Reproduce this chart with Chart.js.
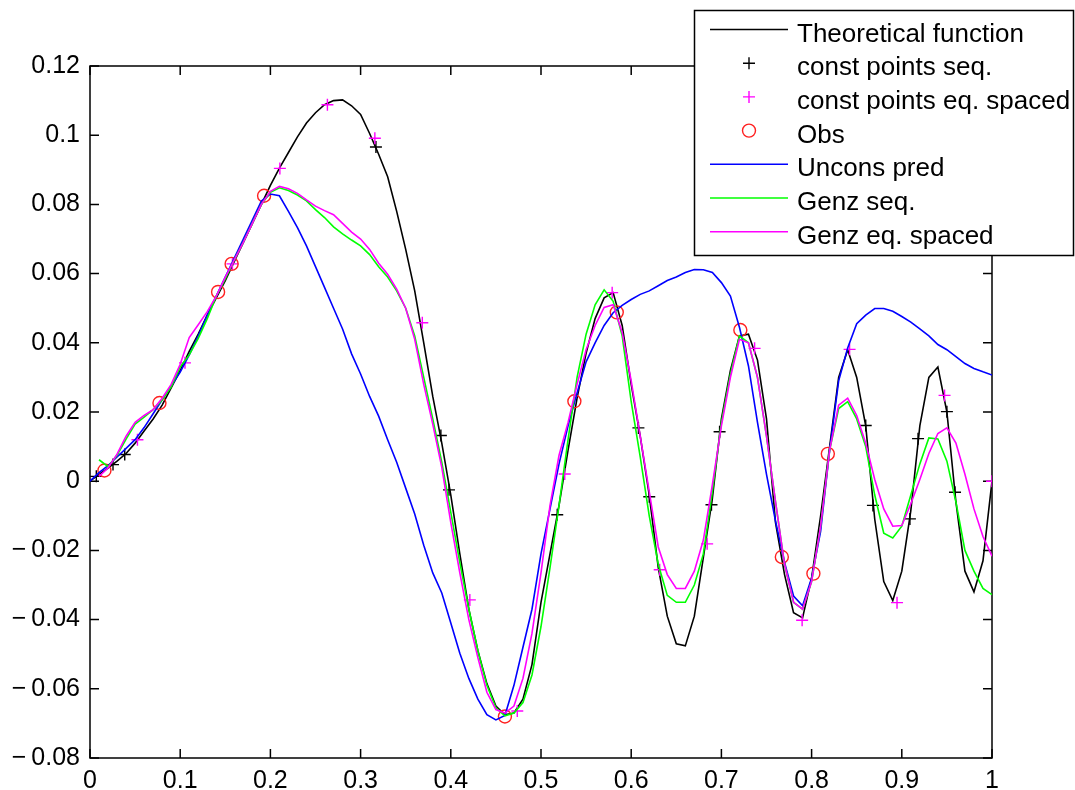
<!DOCTYPE html>
<html>
<head>
<meta charset="utf-8">
<script src="https://cdn.jsdelivr.net/npm/chart.js@4.4.1/dist/chart.umd.min.js"></script>
<style>
  body { margin: 0; background: #fff; }
  #wrap { width: 1075px; height: 790px; }
</style>
</head>
<body>
<div id="wrap"><canvas id="chart" width="1075" height="790"></canvas></div>
<script>
// sample positions of the curves
const xGrid = [0, 0.01, 0.02, 0.03, 0.04, 0.05, 0.06, 0.07, 0.08, 0.09,
  0.1, 0.11, 0.12, 0.13, 0.14, 0.15, 0.16, 0.17, 0.18, 0.19,
  0.2, 0.21, 0.22, 0.23, 0.24, 0.25, 0.26, 0.27, 0.28, 0.29,
  0.3, 0.31, 0.32, 0.33, 0.34, 0.35, 0.36, 0.37, 0.38, 0.39,
  0.4, 0.41, 0.42, 0.43, 0.44, 0.45, 0.46, 0.47, 0.48, 0.49,
  0.5, 0.51, 0.52, 0.53, 0.54, 0.55, 0.56, 0.57, 0.58, 0.59,
  0.6, 0.61, 0.62, 0.63, 0.64, 0.65, 0.66, 0.67, 0.68, 0.69,
  0.7, 0.71, 0.72, 0.73, 0.74, 0.75, 0.76, 0.77, 0.78, 0.79,
  0.8, 0.81, 0.82, 0.83, 0.84, 0.85, 0.86, 0.87, 0.88, 0.89,
  0.9, 0.91, 0.92, 0.93, 0.94, 0.95, 0.96, 0.97, 0.98, 0.99, 1];

const theoretical = [0, 0.002, 0.0038, 0.0058, 0.008, 0.011, 0.0145, 0.018, 0.022, 0.027,
  0.032, 0.0375, 0.0425, 0.048, 0.053, 0.058, 0.0635, 0.069, 0.0745, 0.08,
  0.0855, 0.0905, 0.095, 0.0995, 0.1035, 0.1065, 0.1088, 0.11, 0.1102, 0.1085,
  0.106, 0.1005, 0.0945, 0.088, 0.078, 0.067, 0.055, 0.04, 0.0245, 0.011,
  -0.004, -0.021, -0.037, -0.049, -0.0585, -0.065, -0.0675, -0.067, -0.063, -0.053,
  -0.035, -0.021, -0.007, 0.009, 0.024, 0.037, 0.047, 0.053, 0.0545, 0.045,
  0.028, 0.013, -0.004, -0.025, -0.039, -0.047, -0.0476, -0.039, -0.022, -0.005,
  0.018, 0.032, 0.042, 0.0425, 0.035, 0.018, -0.012, -0.027, -0.038, -0.0395,
  -0.028, -0.01, 0.01, 0.03, 0.038, 0.03, 0.016, -0.011, -0.029, -0.0345,
  -0.026, -0.0085, 0.016, 0.03, 0.033, 0.02, -0.006, -0.026, -0.032, -0.023, 0];

const unconsPred = [0, 0.0025, 0.0045, 0.007, 0.0095, 0.012, 0.0155, 0.0195, 0.0235, 0.0275,
  0.0315, 0.0365, 0.042, 0.048, 0.0535, 0.059, 0.0645, 0.07, 0.0755, 0.081,
  0.083, 0.0825, 0.078, 0.0733, 0.068, 0.062, 0.056, 0.05, 0.044, 0.0368,
  0.031, 0.0245, 0.0188, 0.012, 0.0055, -0.002, -0.0095, -0.0185, -0.0265, -0.0323,
  -0.041, -0.0497, -0.057, -0.063, -0.0675, -0.069, -0.0677, -0.059, -0.048, -0.037,
  -0.021, -0.008, 0.005, 0.016, 0.0255, 0.0345, 0.04, 0.045, 0.0487, 0.0508,
  0.0525, 0.054, 0.055, 0.0565, 0.058, 0.059, 0.0603, 0.0612, 0.0611, 0.0603,
  0.0574, 0.0535, 0.0445, 0.0333, 0.017, 0.002, -0.0115, -0.0235, -0.0332, -0.036,
  -0.028, -0.0145, 0.009, 0.029, 0.0385, 0.0455, 0.048, 0.0499, 0.0499, 0.0491,
  0.0476, 0.046, 0.044, 0.042, 0.0395, 0.038, 0.036, 0.034, 0.0326, 0.0316, 0.0307];

const genzSeq = [null, 0.0062, 0.0042, 0.0075, 0.0122, 0.0165, 0.0185, 0.0207, 0.0235, 0.0273,
  0.033, 0.0365, 0.0413, 0.047, 0.0535, 0.0585, 0.064, 0.069, 0.0745, 0.08,
  0.0835, 0.0848, 0.084, 0.0827, 0.081, 0.0785, 0.0762, 0.0735, 0.0715, 0.0697,
  0.068, 0.0655, 0.062, 0.059, 0.055, 0.05, 0.042, 0.03, 0.018, 0.0055,
  -0.009, -0.0235, -0.037, -0.049, -0.059, -0.0655, -0.0678, -0.067, -0.064, -0.056,
  -0.042, -0.025, -0.007, 0.012, 0.03, 0.0425, 0.051, 0.0553, 0.052, 0.042,
  0.023, 0.007, -0.01, -0.024, -0.033, -0.035, -0.035, -0.03, -0.021, -0.003,
  0.017, 0.031, 0.042, 0.04, 0.03, 0.013, -0.006, -0.024, -0.035, -0.037,
  -0.029, -0.013, 0.009, 0.021, 0.023, 0.018, 0.01, -0.004, -0.015, -0.0164,
  -0.013, -0.004, 0.005, 0.0125, 0.0122, 0.0058, -0.006, -0.02, -0.026, -0.031, -0.0328];

const genzEq = [null, 0.0014, 0.0038, 0.0078, 0.013, 0.017, 0.019, 0.0207, 0.024, 0.028,
  0.0338, 0.0415, 0.0452, 0.049, 0.0535, 0.059, 0.064, 0.069, 0.0745, 0.08,
  0.0838, 0.0852, 0.0845, 0.0832, 0.0813, 0.0795, 0.0782, 0.077, 0.0745, 0.072,
  0.07, 0.067, 0.063, 0.0598, 0.0555, 0.05, 0.041, 0.028, 0.0165, 0.004,
  -0.012, -0.0265, -0.04, -0.051, -0.061, -0.066, -0.067, -0.065, -0.057, -0.044,
  -0.0265, -0.007, 0.0075, 0.017, 0.028, 0.038, 0.045, 0.0502, 0.051, 0.043,
  0.029, 0.013, -0.003, -0.019, -0.027, -0.031, -0.031, -0.026, -0.017, -0.001,
  0.016, 0.03, 0.041, 0.04, 0.03, 0.013, -0.006, -0.024, -0.035, -0.037,
  -0.029, -0.013, 0.009, 0.022, 0.024, 0.019, 0.011, 0.0005, -0.008, -0.013,
  -0.0128, -0.0065, 0.0005, 0.008, 0.0138, 0.0154, 0.011, 0.002, -0.008, -0.016, -0.0217];

// constraint points, sequential
const seqX = [0.007, 0.0255, 0.0385, 0.317, 0.389, 0.398, 0.518, 0.608, 0.62,
  0.689, 0.698, 0.86, 0.868, 0.909, 0.918, 0.95, 0.959];
const seqY = [0.0014, 0.0048, 0.0077, 0.0966, 0.0132, -0.0025, -0.0097, 0.0154, -0.0045,
  -0.0068, 0.0143, 0.0161, -0.007, -0.0109, 0.0123, 0.0201, -0.0032];

// constraint points, equally spaced
const eqX = [0.0526, 0.1053, 0.1579, 0.2105, 0.2632, 0.3158, 0.3684, 0.4211, 0.4737, 0.5263,
  0.5789, 0.6316, 0.6842, 0.7368, 0.7895, 0.8421, 0.8947, 0.9474, 1];
const eqY = [0.012, 0.0342, 0.0628, 0.0904, 0.1088, 0.0991, 0.0458, -0.0343, -0.0664, 0.0021,
  0.0545, -0.0256, -0.0181, 0.0384, -0.0402, 0.0381, -0.0351, 0.0248, 0];

// observations
const obsX = [0.016, 0.077, 0.142, 0.157, 0.193, 0.46, 0.537, 0.584, 0.721, 0.767, 0.802, 0.818];
const obsY = [0.0031, 0.0226, 0.0547, 0.0628, 0.0825, -0.068, 0.0231, 0.0488, 0.0437, -0.0219, -0.0267, 0.0079];

const labels = ["Theoretical function", "const points seq.", "const points eq. spaced",
  "Obs", "Uncons pred", "Genz seq.", "Genz eq. spaced"];

function pts(xs, ys) {
  const out = [];
  xs.forEach((x, i) => { if (ys[i] !== null) out.push({ x: x, y: ys[i] }); });
  return out;
}

function lineSet(label, ys, color, order) {
  return {
    label: label, data: pts(xGrid, ys), borderColor: color, backgroundColor: color,
    borderWidth: 1.6, pointRadius: 0, tension: 0, fill: false, order: order
  };
}

function markSet(label, xs, ys, style, color, radius, order) {
  return {
    label: label, data: pts(xs, ys), showLine: false, pointStyle: style,
    pointRadius: radius, pointBorderColor: color, pointBackgroundColor: "rgba(0,0,0,0)",
    pointBorderWidth: 1.4, borderColor: color, backgroundColor: "rgba(0,0,0,0)", order: order
  };
}

const FONT = "'Liberation Sans', Arial, Helvetica, sans-serif";

// MATLAB-like box with inward ticks
const boxAxes = {
  id: "boxAxes",
  beforeDatasetsDraw(chart) {
    const ctx = chart.ctx, a = chart.chartArea;
    const xs = chart.scales.x, ys = chart.scales.y;
    ctx.save();
    ctx.strokeStyle = "#000";
    ctx.lineWidth = 1.5;
    ctx.strokeRect(a.left, a.top, a.right - a.left, a.bottom - a.top);
    ctx.beginPath();
    const L = 9;
    xs.ticks.forEach(t => {
      const p = xs.getPixelForValue(t.value);
      ctx.moveTo(p, a.bottom); ctx.lineTo(p, a.bottom - L);
      ctx.moveTo(p, a.top); ctx.lineTo(p, a.top + L);
    });
    ys.ticks.forEach(t => {
      const p = ys.getPixelForValue(t.value);
      ctx.moveTo(a.left, p); ctx.lineTo(a.left + L, p);
      ctx.moveTo(a.right, p); ctx.lineTo(a.right - L, p);
    });
    ctx.stroke();
    ctx.restore();
  }
};

// legend box in the top right corner
const boxLegend = {
  id: "boxLegend",
  afterDraw(chart) {
    const ctx = chart.ctx;
    ctx.save();
    ctx.fillStyle = "#fff";
    ctx.fillRect(694.5, 10.5, 379, 245);
    ctx.strokeStyle = "#000";
    ctx.lineWidth = 1.5;
    ctx.strokeRect(694.5, 10.5, 379, 245);
    chart.data.datasets.forEach((ds, i) => {
      const y = 29.5 + i * 33.7;
      if (ds.showLine === false) {
        ctx.strokeStyle = ds.pointBorderColor;
        ctx.lineWidth = 1.4;
        ctx.beginPath();
        if (ds.pointStyle === "circle") {
          ctx.arc(749, y, 6.5, 0, Math.PI * 2);
        } else {
          ctx.moveTo(743, y); ctx.lineTo(755, y);
          ctx.moveTo(749, y - 6); ctx.lineTo(749, y + 6);
        }
        ctx.stroke();
      } else {
        ctx.strokeStyle = ds.borderColor;
        ctx.lineWidth = 1.5;
        ctx.beginPath();
        ctx.moveTo(710, y); ctx.lineTo(788, y);
        ctx.stroke();
      }
      ctx.fillStyle = "#000";
      ctx.font = "26px " + FONT;
      ctx.textBaseline = "alphabetic";
      ctx.fillText(ds.label, 797, y + 12);
    });
    ctx.restore();
  }
};

const chart = new Chart("chart", {
  type: "line",
  data: {
    datasets: [
      lineSet(labels[0], theoretical, "#000000", 7),
      markSet(labels[1], seqX, seqY, "cross", "#000000", 6, 6),
      markSet(labels[2], eqX, eqY, "cross", "#ff00ff", 6, 5),
      markSet(labels[3], obsX, obsY, "circle", "#ff2020", 6.5, 4),
      lineSet(labels[4], unconsPred, "#0000ff", 3),
      lineSet(labels[5], genzSeq, "#00ff00", 2),
      lineSet(labels[6], genzEq, "#ff00ff", 1)
    ]
  },
  options: {
    responsive: false,
    animation: false,
    layout: { padding: { top: 66, right: 83, left: 0, bottom: 0 } },
    plugins: { legend: { display: false }, tooltip: { enabled: false } },
    scales: {
      x: {
        type: "linear", min: 0, max: 1,
        grid: { display: false, drawTicks: false },
        border: { display: false },
        ticks: {
          stepSize: 0.1, padding: 8, color: "#000",
          font: { family: FONT, size: 25 },
          maxRotation: 0, autoSkip: false,
          callback: v => String(Math.round(v * 10) / 10)
        },
        afterFit(scale) { scale.height = 32; }
      },
      y: {
        type: "linear", min: -0.08, max: 0.12,
        grid: { display: false, drawTicks: false },
        border: { display: false },
        ticks: {
          stepSize: 0.02, padding: 10, color: "#000",
          font: { family: FONT, size: 25 },
          callback: v => {
            const s = Math.round(v * 100) / 100;
            if (s === 0) return "0";
            return (s < 0 ? "\u2212\u2009" : "") + String(Math.abs(s));
          }
        },
        afterFit(scale) { scale.width = 90; }
      }
    }
  },
  plugins: [boxAxes, boxLegend]
});
</script>
</body>
</html>
